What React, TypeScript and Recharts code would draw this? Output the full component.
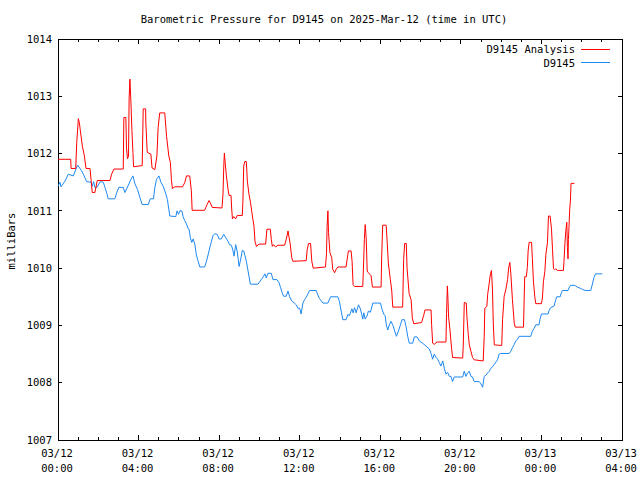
import { LineChart, Line, XAxis, YAxis, ReferenceArea } from 'recharts'

const INK = '#000000'
const RED = '#ff0000'
const BLUE = '#1e88f0'
const FONT = '"DejaVu Sans Mono", "Liberation Mono", monospace'

// hours since 03/12 00:00 UTC
const analysisHours = [
  0, 0.63, 0.65, 0.88, 0.93, 1.01, 1.06, 1.11, 1.21, 1.31, 1.39, 1.59, 1.64, 1.7, 1.83, 1.95,
  2.58, 2.66, 2.78, 3.24, 3.27, 3.37, 3.4, 3.45, 3.5, 3.53, 3.57, 3.62, 3.67, 3.72, 3.75, 4.18,
  4.23, 4.35, 4.36, 4.43, 4.61, 4.67, 4.81, 4.91, 4.97, 5.05, 5.3, 5.39, 5.5, 5.58, 5.63, 5.68,
  5.8, 6.18, 6.29, 6.38, 6.54, 6.62, 6.66, 7.28, 7.4, 7.5, 7.56, 7.66, 8.14, 8.19, 8.23, 8.26,
  8.29, 8.36, 8.44, 8.49, 8.59, 8.62, 8.66, 8.72, 8.82, 8.9, 9.15, 9.18, 9.22, 9.27, 9.35, 9.4,
  9.48, 9.56, 9.65, 9.73, 9.78, 9.85, 9.98, 10.31, 10.37, 10.54, 10.59, 10.64, 10.7, 10.8, 10.92,
  11.25, 11.33, 11.42, 11.46, 11.53, 11.6, 11.66, 12.32, 12.37, 12.44, 12.54, 12.6, 12.67, 13.28,
  13.33, 13.36, 13.4, 13.43, 13.5, 13.59, 13.64, 13.73, 13.81, 13.89, 14.3, 14.39, 14.42, 14.55,
  14.6, 14.65, 14.72, 15.13, 15.16, 15.21, 15.25, 15.3, 15.35, 15.41, 15.54, 15.61, 16.04, 16.07,
  16.12, 16.29, 16.34, 16.4, 16.5, 16.57, 16.62, 17.11, 17.16, 17.21, 17.29, 17.33, 17.43, 17.53,
  17.59, 17.66, 18.05, 18.15, 18.22, 18.52, 18.55, 18.6, 18.68, 18.81, 19.26, 19.29, 19.33, 19.36,
  19.39, 19.46, 19.54, 19.59, 20.09, 20.12, 20.17, 20.27, 20.3, 20.37, 20.42, 20.5, 20.58, 20.66,
  21.11, 21.16, 21.19, 21.29, 21.33, 21.41, 21.46, 21.52, 21.57, 21.61, 21.66, 22.03, 22.07, 22.15,
  22.23, 22.32, 22.37, 22.43, 22.48, 22.56, 22.65, 22.7, 23.11, 23.14, 23.17, 23.25, 23.3, 23.34,
  23.39, 23.51, 23.55, 23.6, 23.67, 23.72, 24.0, 24.05, 24.1, 24.17, 24.22, 24.3, 24.35, 24.43,
  24.5, 24.55, 24.6, 24.66, 24.71, 24.79, 25.09, 25.12, 25.17, 25.21, 25.26, 25.29, 25.32, 25.34,
  25.37, 25.4, 25.44, 25.47, 25.64,
]
const analysisMb = [
  1011.9, 1011.9, 1011.74, 1011.74, 1012.19, 1012.61, 1012.54, 1012.4, 1012.13, 1011.96, 1011.74,
  1011.74, 1011.55, 1011.32, 1011.32, 1011.53, 1011.53, 1011.64, 1011.73, 1011.73, 1012.63, 1012.63,
  1012.1, 1011.91, 1011.95, 1012.95, 1013.3, 1012.9, 1012.4, 1012.02, 1011.77, 1011.79, 1012.78,
  1012.78, 1012.55, 1012.02, 1011.99, 1011.75, 1011.72, 1011.96, 1012.45, 1012.71, 1012.71, 1012.3,
  1011.96, 1011.84, 1011.55, 1011.39, 1011.42, 1011.42, 1011.49, 1011.61, 1011.61, 1011.35, 1011.01,
  1011.01, 1011.11, 1011.18, 1011.14, 1011.06, 1011.05, 1011.28, 1011.78, 1012.01, 1011.88, 1011.61,
  1011.38, 1011.27, 1011.27, 1011.05, 1010.86, 1010.9, 1010.86, 1010.92, 1010.92, 1011.17, 1011.78,
  1011.86, 1011.86, 1011.52, 1011.29, 1011.14, 1010.91, 1010.73, 1010.47, 1010.38, 1010.42, 1010.42,
  1010.68, 1010.68, 1010.5, 1010.38, 1010.41, 1010.37, 1010.4, 1010.4, 1010.5, 1010.65, 1010.56,
  1010.42, 1010.19, 1010.12, 1010.13, 1010.32, 1010.43, 1010.43, 1010.12, 1010.0, 1010.02, 1010.26,
  1010.73, 1011.0, 1010.62, 1010.27, 1010.18, 1009.98, 1009.92, 1009.98, 1010.02, 1010.02, 1010.24,
  1010.3, 1010.3, 1010.12, 1009.71, 1009.68, 1009.68, 1009.97, 1010.5, 1010.76, 1010.53, 1009.95,
  1009.92, 1009.87, 1009.67, 1009.67, 1010.21, 1010.75, 1010.75, 1010.47, 1010.09, 1009.8, 1009.6,
  1009.32, 1009.32, 1010.15, 1010.43, 1010.43, 1010.0, 1009.56, 1009.45, 1009.13, 1009.03, 1009.05,
  1009.17, 1009.27, 1009.27, 1009.0, 1008.69, 1008.67, 1008.71, 1008.71, 1009.21, 1009.69, 1009.47,
  1009.15, 1008.92, 1008.6, 1008.44, 1008.43, 1008.66, 1009.4, 1009.39, 1009.15, 1008.84, 1008.66,
  1008.55, 1008.44, 1008.4, 1008.38, 1008.81, 1009.3, 1009.33, 1009.54, 1009.74, 1009.88, 1009.96,
  1009.62, 1009.04, 1008.66, 1008.65, 1009.1, 1009.51, 1009.62, 1009.8, 1010.0, 1010.1, 1009.91,
  1009.45, 1009.04, 1008.97, 1008.97, 1009.41, 1009.85, 1009.85, 1010.01, 1010.3, 1010.45, 1010.45,
  1010.17, 1009.79, 1009.5, 1009.38, 1009.38, 1009.48, 1009.77, 1009.94, 1010.24, 1010.45, 1010.91,
  1010.91, 1010.68, 1010.33, 1009.99, 1009.97, 1009.99, 1009.96, 1009.96, 1010.12, 1010.45, 1010.65,
  1010.8, 1010.36, 1010.16, 1010.5, 1010.73, 1011.0, 1011.19, 1011.48, 1011.48,
]

const stationHours = [
  0, 0.1, 0.15, 0.35, 0.51, 0.76, 0.97, 1.17, 1.3, 1.42, 1.64, 1.7, 1.77, 1.83, 1.93, 2.1, 2.25,
  2.33, 2.43, 2.49, 2.82, 2.91, 3.02, 3.24, 3.32, 3.4, 3.52, 3.62, 3.72, 3.82, 3.95, 4.06, 4.18,
  4.48, 4.58, 4.74, 4.81, 4.89, 5.01, 5.11, 5.22, 5.34, 5.43, 5.55, 5.85, 5.91, 5.98, 6.05, 6.15,
  6.21, 6.29, 6.38, 6.46, 6.51, 6.57, 6.64, 6.71, 6.79, 6.87, 6.95, 7.04, 7.28, 7.37, 7.45, 7.53,
  7.62, 7.7, 7.78, 7.9, 8.0, 8.11, 8.23, 8.33, 8.44, 8.52, 8.61, 8.69, 8.74, 8.82, 8.89, 8.95,
  8.99, 9.05, 9.1, 9.15, 9.22, 9.28, 9.35, 9.42, 9.48, 9.55, 9.93, 10.09, 10.21, 10.27, 10.34,
  10.42, 10.59, 10.67, 10.87, 10.97, 11.05, 11.13, 11.2, 11.33, 11.42, 11.5, 11.62, 11.74, 11.83,
  11.91, 12.0, 12.07, 12.16, 12.24, 12.32, 12.41, 12.49, 12.82, 12.9, 12.98, 13.15, 13.4, 13.53,
  13.89, 13.97, 14.06, 14.14, 14.3, 14.39, 14.47, 14.59, 14.65, 14.72, 14.8, 14.92, 15.0, 15.08,
  15.13, 15.18, 15.25, 15.35, 15.41, 15.51, 15.63, 16.01, 16.07, 16.17, 16.24, 16.3, 16.37, 16.45,
  16.53, 16.62, 16.7, 16.8, 16.9, 17.0, 17.08, 17.2, 17.28, 17.36, 17.44, 17.61, 17.69, 17.82,
  17.94, 18.1, 18.27, 18.43, 18.52, 18.6, 18.68, 18.77, 18.85, 18.93, 19.01, 19.1, 19.18, 19.26,
  19.34, 19.43, 19.51, 19.59, 19.67, 20.09, 20.17, 20.25, 20.33, 20.42, 20.5, 20.58, 20.66, 20.91,
  21.0, 21.08, 21.16, 21.24, 21.33, 21.41, 21.49, 21.57, 21.66, 21.82, 21.9, 21.98, 22.4, 22.48,
  22.56, 22.65, 22.73, 22.81, 22.89, 23.47, 23.55, 23.64, 23.72, 23.88, 23.93, 24.0, 24.33, 24.38,
  24.46, 24.63, 24.71, 24.76, 24.93, 24.99, 25.04, 25.32, 25.39, 25.45, 25.65, 25.79, 25.92, 26.03,
  26.17, 26.45, 26.53, 26.61, 26.69, 27.02,
]
const stationMb = [
  1011.43, 1011.5, 1011.42, 1011.52, 1011.64, 1011.61, 1011.8, 1011.7, 1011.61, 1011.51, 1011.5,
  1011.43, 1011.51, 1011.41, 1011.41, 1011.51, 1011.5, 1011.41, 1011.3, 1011.21, 1011.21, 1011.31,
  1011.41, 1011.41, 1011.32, 1011.38, 1011.47, 1011.55, 1011.61, 1011.47, 1011.37, 1011.24, 1011.11,
  1011.11, 1011.21, 1011.21, 1011.41, 1011.55, 1011.61, 1011.5, 1011.43, 1011.31, 1011.2, 1010.91,
  1010.9, 1011.0, 1010.94, 1011.0, 1011.0, 1010.9, 1010.83, 1010.77, 1010.69, 1010.68, 1010.53,
  1010.45, 1010.51, 1010.42, 1010.23, 1010.13, 1010.02, 1010.02, 1010.12, 1010.23, 1010.35, 1010.47,
  1010.57, 1010.6, 1010.59, 1010.51, 1010.51, 1010.59, 1010.53, 1010.47, 1010.41, 1010.4, 1010.3,
  1010.21, 1010.41, 1010.3, 1010.15, 1010.03, 1010.12, 1010.21, 1010.31, 1010.3, 1010.22, 1010.12,
  1009.98, 1009.86, 1009.72, 1009.72, 1009.8, 1009.86, 1009.9, 1009.83, 1009.91, 1009.91, 1009.8,
  1009.8, 1009.75, 1009.66, 1009.57, 1009.51, 1009.51, 1009.6, 1009.5, 1009.42, 1009.39, 1009.36,
  1009.3, 1009.3, 1009.2, 1009.39, 1009.45, 1009.49, 1009.55, 1009.61, 1009.61, 1009.53, 1009.47,
  1009.39, 1009.39, 1009.5, 1009.5, 1009.42, 1009.25, 1009.1, 1009.1, 1009.19, 1009.17, 1009.29,
  1009.22, 1009.31, 1009.22, 1009.36, 1009.3, 1009.19, 1009.11, 1009.22, 1009.11, 1009.17, 1009.25,
  1009.23, 1009.39, 1009.39, 1009.3, 1009.2, 1009.17, 1009.01, 1008.92, 1009.01, 1009.07, 1009.01,
  1008.92, 1008.81, 1008.9, 1009.01, 1009.1, 1009.1, 1008.98, 1008.81, 1008.69, 1008.69, 1008.8,
  1008.8, 1008.73, 1008.69, 1008.64, 1008.59, 1008.51, 1008.41, 1008.5, 1008.44, 1008.41, 1008.35,
  1008.29, 1008.38, 1008.25, 1008.15, 1008.18, 1008.11, 1008.11, 1008.02, 1008.1, 1008.1, 1008.2,
  1008.11, 1008.17, 1008.2, 1008.11, 1008.1, 1008.02, 1008.02, 1007.98, 1007.92, 1008.11, 1008.13,
  1008.17, 1008.2, 1008.25, 1008.28, 1008.32, 1008.4, 1008.5, 1008.51, 1008.51, 1008.55, 1008.61,
  1008.67, 1008.73, 1008.76, 1008.81, 1008.81, 1008.9, 1008.95, 1009.01, 1009.01, 1009.11, 1009.2,
  1009.2, 1009.26, 1009.31, 1009.34, 1009.45, 1009.5, 1009.5, 1009.57, 1009.61, 1009.61, 1009.67,
  1009.7, 1009.7, 1009.67, 1009.65, 1009.63, 1009.61, 1009.61, 1009.72, 1009.84, 1009.9, 1009.9,
]

const hourTicks = [
  0, 1, 2, 3, 4, 5, 6, 7, 8, 9, 10, 11, 12, 13, 14, 15, 16, 17, 18, 19, 20, 21, 22, 23, 24, 25, 26,
  27, 28,
]
const dateLabels = ['03/12', '03/12', '03/12', '03/12', '03/12', '03/12', '03/13', '03/13']
const timeLabels = ['00:00', '04:00', '08:00', '12:00', '16:00', '20:00', '00:00', '04:00']
const mbTicks = [1007, 1008, 1009, 1010, 1011, 1012, 1013, 1014]

const analysis = analysisHours.map((t, i) => ({ t, mb: analysisMb[i] }))
const station = stationHours.map((t, i) => ({ t, mb: stationMb[i] }))

// plot frame (gnuplot-ish box with inward ticks on all four sides)
const LEFT = 58
const RIGHT = 622
const TOP = 39
const BOTTOM = 440

function HourTick({ x, payload }: any) {
  const h = payload.value as number
  const major = h % 4 === 0
  const len = major ? 5 : 3
  const idx = h / 4
  return (
    <g>
      <line x1={x} x2={x} y1={BOTTOM} y2={BOTTOM - len} stroke={INK} shapeRendering="crispEdges" />
      <line x1={x} x2={x} y1={TOP} y2={TOP + len} stroke={INK} shapeRendering="crispEdges" />
      {major && (
        <text textAnchor="middle" fontFamily={FONT} fontSize={10.5} fill={INK}>
          <tspan x={x - 1} y={457}>{dateLabels[idx]}</tspan>
          <tspan x={x - 1} y={472}>{timeLabels[idx]}</tspan>
        </text>
      )}
    </g>
  )
}

function MbTick({ y, payload }: any) {
  return (
    <g>
      <line x1={LEFT} x2={LEFT + 4} y1={y} y2={y} stroke={INK} shapeRendering="crispEdges" />
      <line x1={RIGHT} x2={RIGHT - 4} y1={y} y2={y} stroke={INK} shapeRendering="crispEdges" />
      <text x={52} y={y} dy="0.35em" textAnchor="end" fontFamily={FONT} fontSize={10.5} fill={INK}>
        {payload.value}
      </text>
    </g>
  )
}

export default function App() {
  return (
    <div style={{ position: 'absolute', left: 0, top: 0, width: 640, height: 480, background: '#fff' }}>
      <LineChart
        width={640}
        height={480}
        margin={{ top: TOP, right: 640 - RIGHT, bottom: 0, left: 0 }}
      >
        <XAxis
          dataKey="t"
          type="number"
          domain={[0, 28]}
          ticks={hourTicks}
          interval={0}
          height={480 - BOTTOM}
          axisLine={false}
          tickLine={false}
          tick={<HourTick />}
          allowDataOverflow
        />
        <YAxis
          dataKey="mb"
          type="number"
          domain={[1007, 1014]}
          ticks={mbTicks}
          interval={0}
          width={LEFT}
          axisLine={false}
          tickLine={false}
          tick={<MbTick />}
          allowDataOverflow
        />
        <ReferenceArea
          x1={0}
          x2={28}
          y1={1007}
          y2={1014}
          fill="none"
          stroke={INK}
          strokeWidth={1}
          shapeRendering="crispEdges"
          ifOverflow="visible"
        />
        <Line
          data={station}
          dataKey="mb"
          type="linear"
          stroke={BLUE}
          strokeWidth={1}
          dot={false}
          isAnimationActive={false}
        />
        <Line
          data={analysis}
          dataKey="mb"
          type="linear"
          stroke={RED}
          strokeWidth={1}
          dot={false}
          isAnimationActive={false}
        />
      </LineChart>
      <svg
        width={640}
        height={480}
        style={{ position: 'absolute', left: 0, top: 0, pointerEvents: 'none' }}
        fontFamily={FONT}
        fontSize={10.5}
      >
        <text x={324} y={23} textAnchor="middle" fill={INK}>
          Barometric Pressure for D9145 on 2025-Mar-12 (time in UTC)
        </text>
        <text transform="translate(15 241) rotate(-90)" textAnchor="middle" fill={INK}>
          milliBars
        </text>
        <text x={575} y={53} textAnchor="end" fill={INK}>D9145 Analysis</text>
        <line x1={581} x2={610} y1={49.5} y2={49.5} stroke={RED} />
        <text x={575} y={67} textAnchor="end" fill={INK}>D9145</text>
        <line x1={581} x2={610} y1={62.5} y2={62.5} stroke={BLUE} />
      </svg>
    </div>
  )
}
